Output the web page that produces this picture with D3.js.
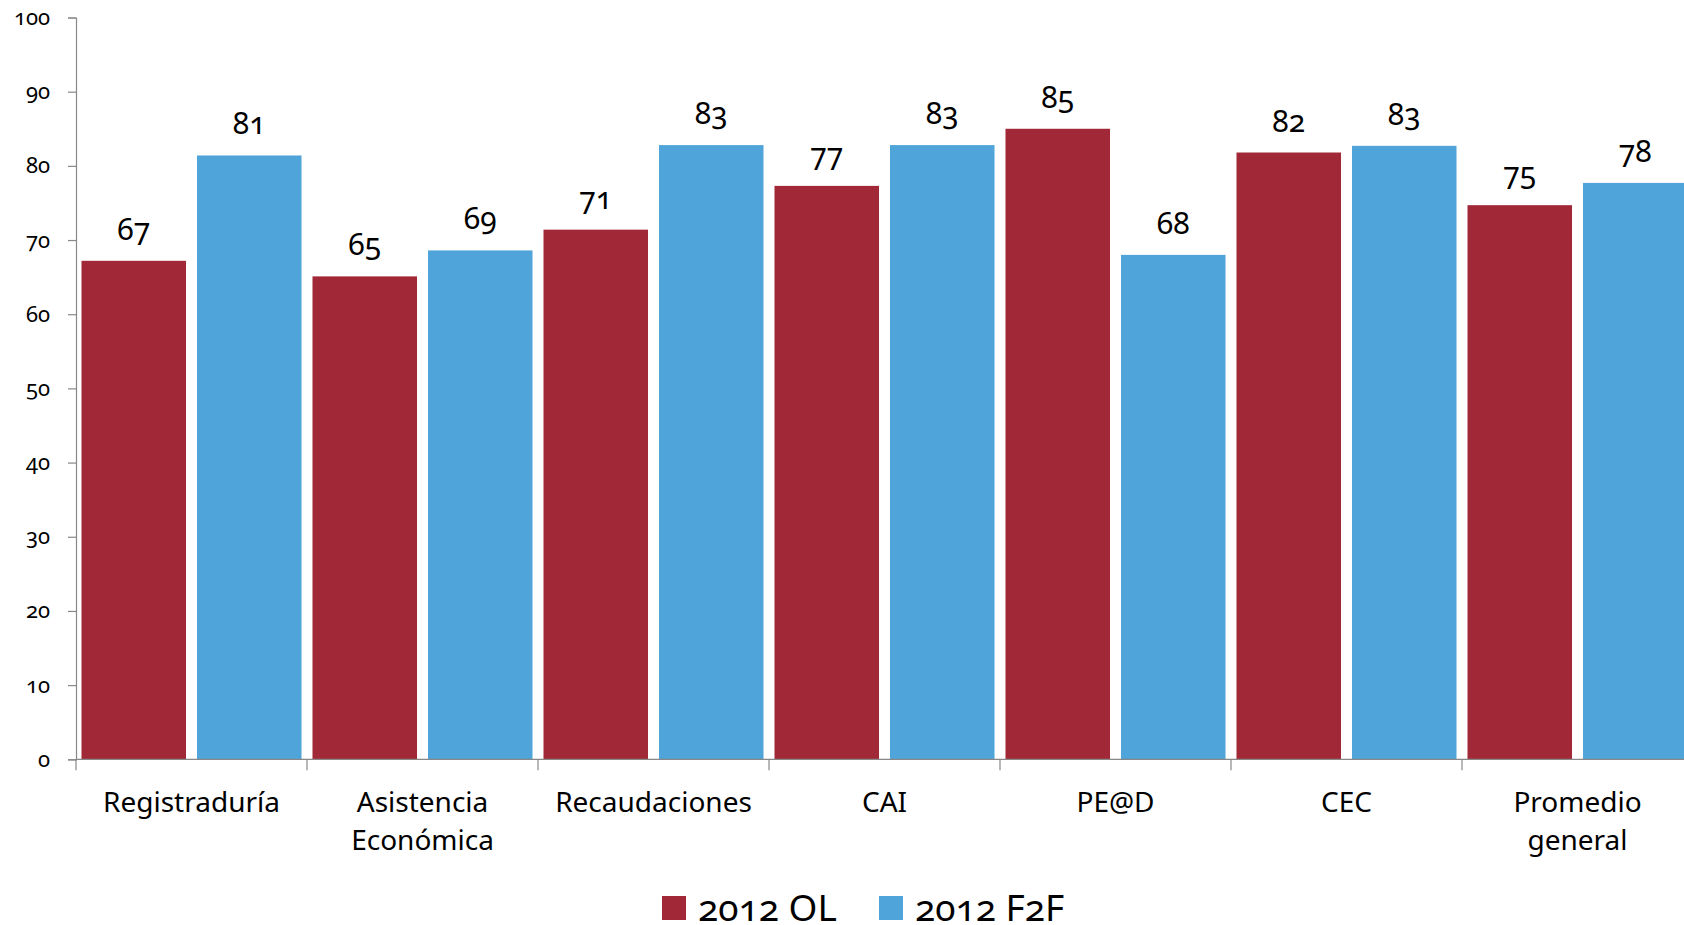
<!DOCTYPE html>
<html>
<head>
<meta charset="utf-8">
<script src="https://cdn.jsdelivr.net/npm/d3@7"></script>
<style>
  html, body { margin: 0; padding: 0; background: #fff; overflow: hidden; }
  svg { display: block; font-family: "Noto Sans", "Open Sans", sans-serif; font-variant-numeric: oldstyle-nums; font-feature-settings: "onum" 1; }
</style>
</head>
<body>
<svg id="chart" width="1684" height="925"></svg>
<script>
// Satisfaction scores by service, online vs. face-to-face (2012)
const categories = [
  ["Registraduría"],
  ["Asistencia", "Económica"],
  ["Recaudaciones"],
  ["CAI"],
  ["PE@D"],
  ["CEC"],
  ["Promedio", "general"]
];
const seriesNames = ["2012 OL", "2012 F2F"];
const valuesOL  = [67.2, 65.1, 71.4, 77.3, 85.0, 81.8, 74.7];
const valuesF2F = [81.4, 68.6, 82.8, 82.8, 68.0, 82.7, 77.7];
const yTicks = [0, 10, 20, 30, 40, 50, 60, 70, 80, 90, 100];
const colors = ["#A12836", "#4FA5D9"];

const svg = d3.select("#chart");
const plotLeft = 76, plotTop = 17.5, plotBottom = 759.3, catStep = 231;
const plotRight = plotLeft + catStep * categories.length;

const y = d3.scaleLinear().domain([0, 100]).range([plotBottom, plotTop]);
const x0 = d3.scaleBand().domain(d3.range(categories.length)).range([plotLeft, plotRight]).padding(0);
const x1 = d3.scaleBand().domain([0, 1]).range([0, x0.bandwidth()])
  .paddingInner(0.095).paddingOuter(0.0476);

const rows = categories.map((c, i) => ({ i, vals: [valuesOL[i], valuesF2F[i]] }));

// bars
const groups = svg.append("g").selectAll("g").data(rows).join("g")
  .attr("transform", d => `translate(${x0(d.i)},0)`);
groups.selectAll("rect").data(d => d.vals.map((v, s) => ({ v, s }))).join("rect")
  .attr("x", d => x1(d.s))
  .attr("width", x1.bandwidth())
  .attr("y", d => y(d.v))
  .attr("height", d => y(0) - y(d.v))
  .attr("fill", d => colors[d.s]);

// value labels
groups.selectAll("text").data(d => d.vals.map((v, s) => ({ v, s }))).join("text")
  .attr("x", d => x1(d.s) + x1.bandwidth() / 2)
  .attr("y", d => y(d.v) - 21)
  .attr("text-anchor", "middle")
  .attr("font-size", 30)
  .attr("fill", "#000")
  .text(d => Math.round(d.v));

// y axis
const yAxis = svg.append("g").attr("transform", `translate(${plotLeft},0)`)
  .call(d3.axisLeft(y).tickValues(yTicks).tickSize(8).tickPadding(18));
yAxis.select(".domain").attr("stroke", "#888").attr("stroke-width", 1.2);
yAxis.selectAll(".tick line").attr("stroke", "#888").attr("stroke-width", 1.2);
yAxis.selectAll(".tick text").attr("font-size", 22).attr("fill", "#000")
  .attr("font-family", "Noto Sans");

// x axis with category boundary ticks
const xAxisG = svg.append("g");
xAxisG.append("line")
  .attr("x1", plotLeft).attr("x2", plotRight)
  .attr("y1", y(0)).attr("y2", y(0))
  .attr("stroke", "#888").attr("stroke-width", 1.2);
xAxisG.selectAll("line.tk").data(d3.range(categories.length + 1)).join("line")
  .attr("class", "tk")
  .attr("x1", i => plotLeft + i * x0.step()).attr("x2", i => plotLeft + i * x0.step())
  .attr("y1", y(0)).attr("y2", y(0) + 11)
  .attr("stroke", "#888").attr("stroke-width", 1.2);

const catText = xAxisG.selectAll("text").data(rows).join("text")
  .attr("text-anchor", "middle")
  .attr("font-size", 28)
  .attr("fill", "#000")
  .attr("transform", d => `translate(${x0(d.i) + x0.bandwidth() / 2},${y(0) + 53})`);
catText.selectAll("tspan").data(d => categories[d.i]).join("tspan")
  .attr("x", 0)
  .attr("dy", (d, k) => k === 0 ? 0 : 38)
  .text(d => d);

// legend
const legend = svg.append("g");
const legendItems = [{ x: 662, s: 0 }, { x: 879, s: 1 }];
legendItems.forEach(it => {
  legend.append("rect").attr("x", it.x).attr("y", 896).attr("width", 24).attr("height", 24)
    .attr("fill", colors[it.s]);
  legend.append("text").attr("x", it.x + 36).attr("y", 921)
    .attr("font-size", 37).attr("fill", "#000").text(seriesNames[it.s]);
});
</script>
</body>
</html>
